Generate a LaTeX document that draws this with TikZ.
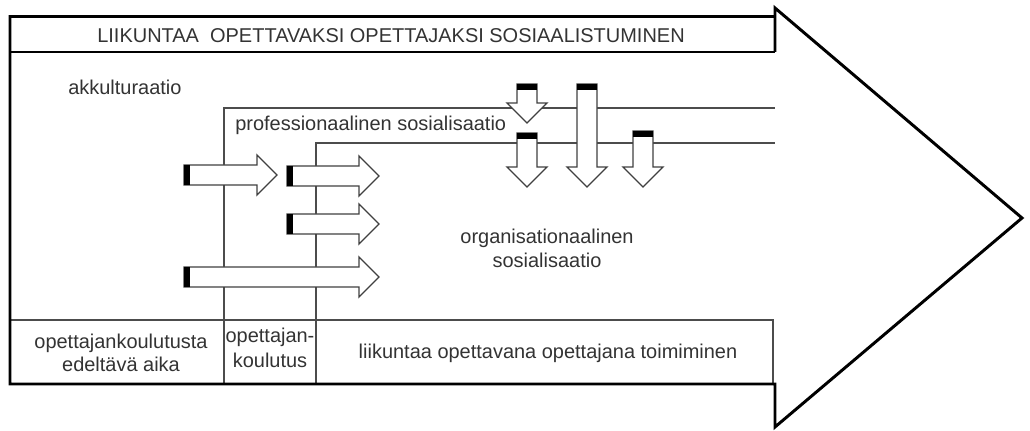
\documentclass[tikz,border=0pt]{standalone}
\usepackage{fontspec}
\setmainfont{Liberation Sans}
\usepackage{tikz}

% block arrow to the right: left end, middle height, tip
\newcommand{\harrow}[3]{%
  \draw[blockarrow] (#1,#2-10) -- (#3-20,#2-10) -- (#3-20,#2-20) -- (#3,#2)
    -- (#3-20,#2+20) -- (#3-20,#2+10) -- (#1,#2+10) -- cycle;
  \fill[black] (#1,#2-10) rectangle (#1+6,#2+10);
}
% block arrow downwards: middle, top end, tip
\newcommand{\varrow}[3]{%
  \draw[blockarrow] (#1-10,#2) -- (#1+10,#2) -- (#1+10,#3-20) -- (#1+20,#3-20)
    -- (#1,#3) -- (#1-20,#3-20) -- (#1-10,#3-20) -- cycle;
  \fill[black] (#1-10,#2) rectangle (#1+10,#2+6);
}

\begin{document}
\begin{tikzpicture}[
    x=0.025cm, y=-0.025cm,
    outline/.style={draw=black, line width=2.1pt},
    thinline/.style={draw=black!70, line width=0.9pt},
    blockarrow/.style={draw=black!75, fill=white, line width=0.9pt},
    lbl/.style={font=\fontsize{14.2}{17}\selectfont, text=black!80, inner sep=0pt},
]
    \useasboundingbox (0,0) rectangle (1030,431);

    % phases
    \draw[thinline] (224,384) -- (224,108) -- (775,108);
    \draw[thinline] (316,384) -- (316,143) -- (775,143);
    \draw[thinline] (10,320) -- (773,320) -- (773,384);

    % big arrow
    \draw[outline] (775,52) -- (775,8) -- (1022,218) -- (775,427) -- (775,384)
        -- (10,384) -- (10,16.5) -- (775,16.5);
    \draw[outline] (10,52) -- (775,52);

    % influences
    \harrow{184}{175}{277}
    \harrow{287}{176}{379}
    \harrow{287}{224}{379}
    \harrow{184}{277}{379}
    \varrow{527}{84}{123}
    \varrow{527}{133}{187}
    \varrow{587}{84}{187}
    \varrow{643}{131}{187}

    \node[lbl, anchor=base] (title) at (391,43) {LIIKUNTAA~~OPETTAVAKSI OPETTAJAKSI SOSIAALISTUMINEN};
    \node[lbl, anchor=base west] (akku) at (68,95) {akkulturaatio};
    \node[lbl, anchor=base west] (prof) at (235,131) {professionaalinen sosialisaatio};
    \node[lbl, anchor=base] (orgA) at (547,244) {organisationaalinen};
    \node[lbl, anchor=base] (orgB) at (547,268) {sosialisaatio};

    \node[lbl, anchor=base] (preA) at (121,348) {opettajankoulutusta};
    \node[lbl, anchor=base] (preB) at (121,371) {edeltävä aika};
    \node[lbl, anchor=base] (eduA) at (270,342) {opettajan-};
    \node[lbl, anchor=base] (eduB) at (270,367) {koulutus};
    \node[lbl, anchor=base] (work) at (548,358) {liikuntaa opettavana opettajana toimiminen};
\end{tikzpicture}
\end{document}
